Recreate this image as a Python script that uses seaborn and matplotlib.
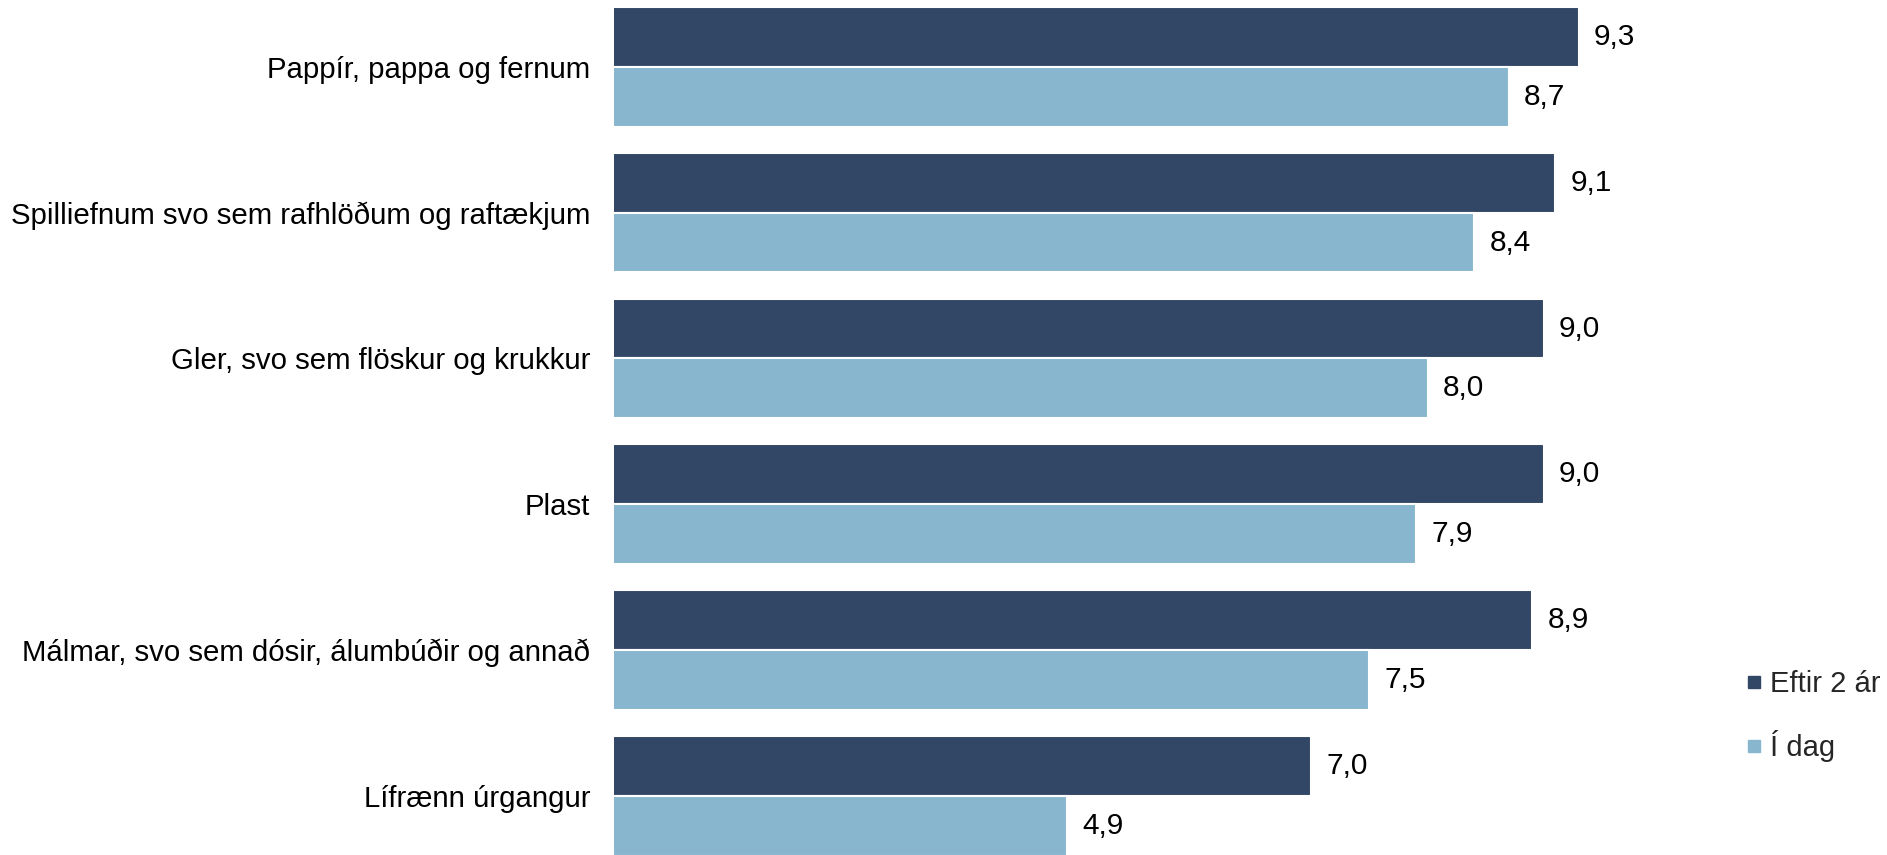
import matplotlib
matplotlib.use("Agg")
import matplotlib.pyplot as plt
import seaborn as sns
import pandas as pd
from matplotlib.lines import Line2D

categories = [
    "Pappír, pappa og fernum",
    "Spilliefnum svo sem rafhlöðum og raftækjum",
    "Gler, svo sem flöskur og krukkur",
    "Plast",
    "Málmar, svo sem dósir, álumbúðir og annað",
    "Lífrænn úrgangur",
]
series = ["Eftir 2 ár", "Í dag"]
eftir_2_ar = [9.3, 9.1, 9.0, 9.0, 8.9, 7.0]
i_dag = [8.7, 8.4, 8.0, 7.9, 7.5, 4.9]
colors = ["#324766", "#87B6CE"]

df = pd.DataFrame({
    "category": categories * 2,
    "series": [series[0]] * len(categories) + [series[1]] * len(categories),
    "value": eftir_2_ar + i_dag,
})

sns.set_theme(style="white")
plt.rcParams["font.family"] = ["Liberation Sans", "DejaVu Sans"]

fig = plt.figure(figsize=(18.87, 8.55), dpi=100)
ax = fig.add_axes([614 / 1887, 0.0, (1660 - 614) / 1887, 1.0])

sns.barplot(data=df, y="category", x="value", hue="series", order=categories,
            hue_order=series, palette=colors, orient="h", width=0.82,
            edgecolor="white", linewidth=1.5, ax=ax, legend=False, saturation=1)

for cont in ax.containers:
    ax.bar_label(cont, labels=[f"{v:.1f}".replace(".", ",") for v in cont.datavalues],
                 padding=11, fontsize=21.5, color="black")

ax.set_xlim(1, 10)
ax.set_ylim(5.405, -0.458)
ax.set_xlabel("")
ax.set_ylabel("")
ax.set_xticks([])
ax.tick_params(axis="y", length=0, pad=17, labelsize=21.2, labelcolor="black")
for s in ax.spines.values():
    s.set_visible(False)

handles = [Line2D([0], [0], marker="s", linestyle="none", markersize=9,
                  markerfacecolor=c, markeredgecolor=c) for c in colors]
fig.legend(handles, series, loc="center left", bbox_to_anchor=(1733.5 / 1887, 1 - 716 / 855),
           frameon=False, fontsize=21, handletextpad=0.25, labelspacing=1.1,
           handlelength=0.6, borderaxespad=0)

fig.savefig("out.png", dpi=100)
